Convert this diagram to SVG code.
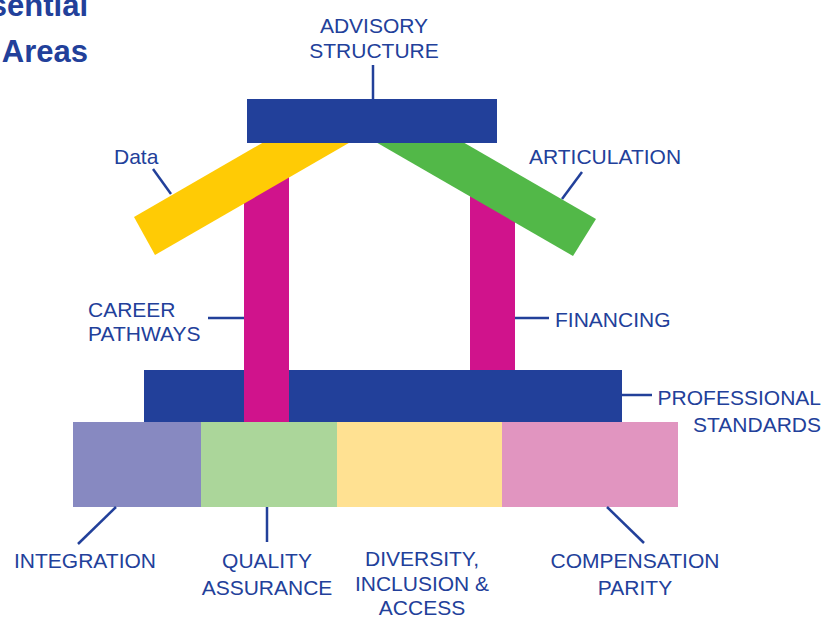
<svg xmlns="http://www.w3.org/2000/svg" width="824" height="621" viewBox="0 0 824 621">
<style>
.lbl{font-family:"Liberation Sans",Arial,sans-serif;font-size:21px;fill:#22409A}
.title{font-family:"Liberation Sans",Arial,sans-serif;font-size:31px;font-weight:bold;fill:#22409A}
.c{text-anchor:middle}
.e{text-anchor:end}
.ln{stroke:#22409A;stroke-width:2.5;fill:none}
</style>
<rect width="824" height="621" fill="#FFFFFF"/>
<g id="title">
<text class="title e" x="88" y="16">sential</text>
<text class="title e" x="88" y="62">Areas</text>
</g>
<g id="financing"><rect x="470" y="185" width="45" height="190" fill="#D0138C"/><text class="lbl" x="555" y="327">FINANCING</text></g>
<g id="professional-standards"><rect x="144" y="370" width="478" height="52" fill="#22409A"/><text class="lbl e" x="821" y="405">PROFESSIONAL</text><text class="lbl e" x="821" y="432">STANDARDS</text></g>
<g id="career-pathways"><rect x="244" y="160" width="45" height="262" fill="#D0138C"/><text class="lbl" x="88" y="317">CAREER</text><text class="lbl" x="88" y="341">PATHWAYS</text></g>
<g id="data"><polygon points="134,217 155,255 354,140 333,102" fill="#FFCB05"/><text class="lbl" x="114" y="164">Data</text></g>
<g id="articulation"><polygon points="596,219 573,256 374,141 397,104" fill="#52B848"/><text class="lbl" x="529" y="164">ARTICULATION</text></g>
<g id="advisory-structure"><rect x="247" y="99" width="250" height="44" fill="#22409A"/><text class="lbl c" x="374" y="33">ADVISORY</text><text class="lbl c" x="374" y="58">STRUCTURE</text></g>
<g id="integration"><rect x="73" y="422" width="128" height="85" fill="#8789C1"/><text class="lbl c" x="85" y="568">INTEGRATION</text></g>
<g id="quality-assurance"><rect x="201" y="422" width="136" height="85" fill="#ABD69A"/><text class="lbl c" x="267" y="568">QUALITY</text><text class="lbl c" x="267" y="595">ASSURANCE</text></g>
<g id="diversity"><rect x="337" y="422" width="165" height="85" fill="#FFE192"/><text class="lbl c" x="422" y="566">DIVERSITY,</text><text class="lbl c" x="422" y="591">INCLUSION &amp;</text><text class="lbl c" x="422" y="615">ACCESS</text></g>
<g id="compensation-parity"><rect x="502" y="422" width="176" height="85" fill="#E195C0"/><text class="lbl c" x="635" y="568">COMPENSATION</text><text class="lbl c" x="635" y="595">PARITY</text></g>
<g id="connectors">
<line class="ln" x1="373" y1="65" x2="373" y2="99"/>
<line class="ln" x1="153" y1="169" x2="171" y2="194"/>
<line class="ln" x1="582" y1="172" x2="562" y2="199"/>
<line class="ln" x1="208" y1="318" x2="244" y2="318"/>
<line class="ln" x1="515" y1="318" x2="549" y2="318"/>
<line class="ln" x1="622" y1="395" x2="652" y2="395"/>
<line class="ln" x1="116" y1="507" x2="78" y2="544"/>
<line class="ln" x1="267" y1="507" x2="267" y2="542"/>
<line class="ln" x1="607" y1="507" x2="644" y2="543"/>
</g>
</svg>
